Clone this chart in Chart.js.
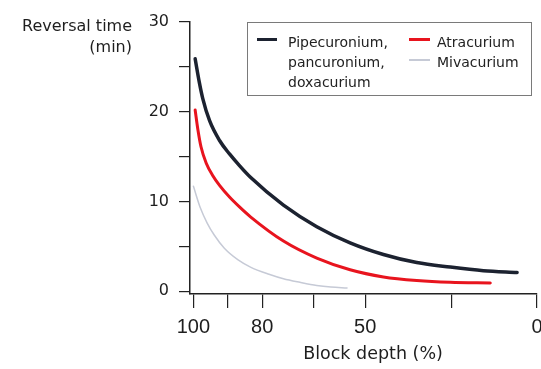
<!DOCTYPE html>
<html>
<head>
<meta charset="utf-8">
<script src="https://cdn.jsdelivr.net/npm/chart.js@4.4.0/dist/chart.umd.min.js"></script>
<style>
  html, body { margin: 0; padding: 0; background: #fff; overflow: hidden; }
  #wrap { position: relative; width: 541px; height: 369px; }
  #legend-box { position: absolute; left: 247px; top: 22px; width: 285px; height: 74px;
    border: 1.5px solid #7a7a7a; box-sizing: border-box; }
  .lg-text { position: absolute; font-family: "DejaVu Sans"; font-size: 14px; line-height: 20px; color: #222; white-space: nowrap; }
  .lg-line { position: absolute; }
</style>
</head>
<body>
<div id="wrap">
  <canvas id="chart" width="541" height="369"></canvas>
  <div id="legend-box"></div>
  <div class="lg-line" style="left:257px;top:37.5px;width:20px;height:3px;background:#1c2230"></div>
  <div class="lg-text" style="left:288px;top:32px">Pipecuronium,<br>pancuronium,<br>doxacurium</div>
  <div class="lg-line" style="left:409px;top:37.5px;width:21px;height:3px;background:#e8141e"></div>
  <div class="lg-text" style="left:437px;top:32px">Atracurium</div>
  <div class="lg-line" style="left:409px;top:59px;width:21px;height:1.5px;background:#c6cad6"></div>
  <div class="lg-text" style="left:437px;top:52px">Mivacurium</div>
</div>
<script>
// Block depth (%) vs reversal time (min)
const pipeDepth = [99.5, 98.3, 97.3, 95.3, 92.4, 89.5, 86.6, 83.4, 73.8, 64.1, 54.4, 44.7, 35, 25.3, 15.6, 5.8];
const pipeTime = [25.9, 23.3, 21.5, 19.0, 16.8, 15.3, 14.0, 12.7, 9.6, 7.2, 5.4, 4.1, 3.2, 2.7, 2.3, 2.1];

const atraDepth = [99.5, 98.7, 97.8, 96.3, 94.4, 92.4, 89.5, 86.6, 83.4, 73.8, 64.1, 54.4, 44.7, 35, 25.3, 13.6];
const atraTime = [20.2, 18.0, 16.1, 14.3, 12.9, 11.8, 10.5, 9.4, 8.3, 5.6, 3.7, 2.4, 1.6, 1.2, 1.0, 0.93];

const mivaDepth = [100, 98, 96, 94, 91, 87, 83.4, 78, 73.8, 69, 64.1, 60, 55.3];
const mivaTime = [11.7, 9.3, 7.6, 6.3, 4.8, 3.5, 2.7, 1.9, 1.4, 1.0, 0.65, 0.48, 0.38];

const xTicks = [100, 90, 80, 65, 50, 25, 0];
const xLabels = [100, 80, 50, 0];
const yTicks = [0, 5, 10, 15, 20, 25, 30];
const yLabels = [0, 10, 20, 30];

function toPoints(xs, ys) {
  return xs.map((x, i) => ({ x: x, y: ys[i] }));
}

const axisColor = "#222";
const textColor = "#1e1e1e";

// axis titles placed like the figure
const titlesPlugin = {
  id: "titles",
  afterDraw(chart) {
    const ctx = chart.ctx;
    ctx.save();
    ctx.fillStyle = textColor;
    ctx.font = "16px 'DejaVu Sans'";
    ctx.textAlign = "right";
    ctx.textBaseline = "alphabetic";
    ctx.fillText("Reversal time", 132, 31);
    ctx.fillText("(min)", 132, 52);
    ctx.font = "17.5px 'DejaVu Sans'";
    ctx.textAlign = "center";
    ctx.fillText("Block depth (%)", 373, 359);
    ctx.restore();
  }
};

const ctx = document.getElementById("chart").getContext("2d");
new Chart(ctx, {
  type: "line",
  data: {
    datasets: [
      {
        label: "Mivacurium",
        data: toPoints(mivaDepth, mivaTime),
        borderColor: "#c6cad6",
        borderWidth: 1.5,
      },
      {
        label: "Atracurium",
        data: toPoints(atraDepth, atraTime),
        borderColor: "#e8141e",
        borderWidth: 3,
      },
      {
        label: "Pipecuronium, pancuronium, doxacurium",
        data: toPoints(pipeDepth, pipeTime),
        borderColor: "#1c2230",
        borderWidth: 3.5,
      },
    ],
  },
  options: {
    responsive: false,
    animation: false,
    layout: { padding: { top: 22, right: 4, left: 0, bottom: 0 } },
    elements: {
      point: { radius: 0 },
      line: { cubicInterpolationMode: "monotone", fill: false, borderCapStyle: "round" },
    },
    scales: {
      x: {
        type: "linear",
        reverse: true,
        min: 0,
        max: 101,
        border: { display: true, color: axisColor, width: 1.5 },
        grid: { drawOnChartArea: false, drawTicks: true, tickLength: 14, color: axisColor, lineWidth: 1.2 },
        ticks: {
          autoSkip: false,
          maxRotation: 0,
          padding: 7,
          color: textColor,
          font: { family: "Liberation Sans", size: 20 },
          callback: (v) => (xLabels.includes(v) ? String(v) : ""),
        },
        afterBuildTicks: (scale) => {
          scale.ticks = xTicks.map((v) => ({ value: v }));
        },
        afterFit: (scale) => {
          scale.height = 75;
          scale.paddingLeft = 0;
          scale.paddingRight = 0;
        },
      },
      y: {
        min: -0.3,
        max: 30,
        border: { display: true, color: axisColor, width: 1.5 },
        grid: { drawOnChartArea: false, drawTicks: true, tickLength: 11, color: axisColor, lineWidth: 1.2 },
        ticks: {
          padding: 10,
          color: textColor,
          font: { family: "DejaVu Sans", size: 16 },
          callback: (v) => (yLabels.includes(v) ? String(v) : ""),
        },
        afterBuildTicks: (scale) => {
          scale.ticks = yTicks.map((v) => ({ value: v }));
        },
        afterFit: (scale) => {
          scale.width = 190;
          scale.paddingTop = 0;
          scale.paddingBottom = 0;
        },
      },
    },
    plugins: {
      legend: { display: false },
      tooltip: { enabled: false },
    },
  },
  plugins: [titlesPlugin],
});
</script>
</body>
</html>
